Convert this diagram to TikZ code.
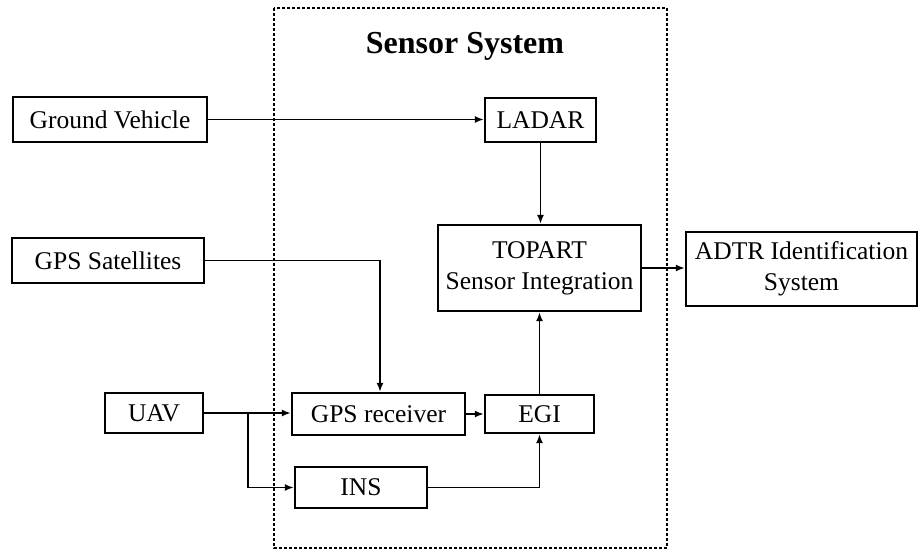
\documentclass[tikz,border=0pt]{standalone}
\usepackage{fontspec}
\setmainfont{Liberation Serif}
\usetikzlibrary{arrows.meta}
\begin{document}
\begin{tikzpicture}[x=1pt,y=-1pt,
  blk/.style={draw,line width=2.2pt,inner sep=0pt,align=center,
    font=\fontsize{25.5}{31}\selectfont},
  link/.style={line width=1.8pt,-{Latex[length=9pt,width=7pt]}}]
\useasboundingbox (0,0) rectangle (919,552);

% sensor system frame
\draw[line width=1.6pt,dash pattern=on 3pt off 2pt] (274,8) rectangle (667,548);
\node[anchor=base,font=\fontsize{32}{36}\selectfont\bfseries] (title) at (465,53) {Sensor System};

% blocks
\node[blk,minimum width=194pt,minimum height=45pt] (gv) at (110,119.5) {Ground Vehicle};
\node[blk,minimum width=192pt,minimum height=45pt] (gps) at (108,260.5) {GPS Satellites};
\node[blk,minimum width=98pt,minimum height=40pt] (uav) at (154,413) {UAV};
\node[blk,minimum width=173pt,minimum height=42pt] (rcv) at (378.5,414) {GPS receiver};
\node[blk,minimum width=132pt,minimum height=41pt] (ins) at (361,487.5) {INS};
\node[blk,minimum width=109pt,minimum height=38pt] (egi) at (539.5,414) {EGI};
\node[blk,minimum width=111pt,minimum height=44pt] (ladar) at (540.5,120) {LADAR};
\node[blk,minimum width=203pt,minimum height=86pt] (topart) at (539.5,268) {TOPART\\Sensor Integration};
\node[blk,minimum width=231pt,minimum height=74pt] (adtr) at (801.5,269) {ADTR Identification\\System};

\coordinate (split) at (248,413);

% connectors
\draw[link] (gv.east) -- (gv.east -| ladar.west);
\draw[link] (ladar.south) -- (ladar.south |- topart.north);
\draw[link] (gps.east) -| ([xshift=1.5pt]rcv.north);
\draw[link] (uav.east) -- (uav.east -| rcv.west);
\draw[link] (split) |- (ins.west);
\draw[link] (rcv.east) -- (rcv.east -| egi.west);
\draw[link] (ins.east) -| (egi.south);
\draw[link] (egi.north) -- (egi.north |- topart.south);
\draw[link] (topart.east) -- (topart.east -| adtr.west);
\end{tikzpicture}
\end{document}
